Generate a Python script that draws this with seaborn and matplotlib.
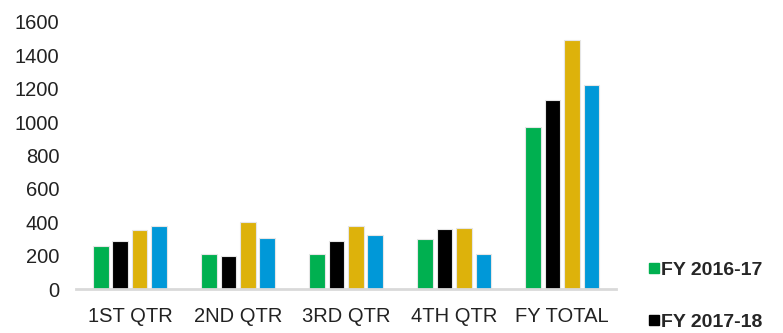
import seaborn as sns
import matplotlib.pyplot as plt
import pandas as pd
from matplotlib.lines import Line2D

# datos
categorias = ["1ST QTR", "2ND QTR", "3RD QTR", "4TH QTR", "FY TOTAL"]
series = ["FY 2016-17", "FY 2017-18", "FY 2018-19", "FY 2019-20"]
fy_2016_17 = [258, 210, 210, 298, 971]
fy_2017_18 = [286, 198, 290, 357, 1130]
fy_2018_19 = [352, 403, 379, 363, 1494]
fy_2019_20 = [379, 307, 321, 210, 1220]
colores = ["#00B050", "#000000", "#DDB20B", "#0098D8"]

valores = [fy_2016_17, fy_2017_18, fy_2018_19, fy_2019_20]
df = pd.DataFrame(
    [(c, s, v) for s, vals in zip(series, valores) for c, v in zip(categorias, vals)],
    columns=["categoria", "serie", "valor"],
)

sns.set_style("white")
plt.rcParams["font.family"] = ["Liberation Sans", "DejaVu Sans"]

fig = plt.figure(figsize=(7.83, 3.33), dpi=100)
ax = fig.add_axes([0.097, 0.132, 0.69, 0.802])

sns.barplot(data=df, x="categoria", y="valor", hue="serie", palette=colores,
            saturation=1, width=0.72, gap=0.2, edgecolor="#E6E6E6", linewidth=0.8,
            legend=False, ax=ax)

ax.set_xlim(-0.5, 4.5)
ax.set_ylim(0, 1600)
ax.set_yticks(range(0, 1601, 200))
ax.set_xlabel("")
ax.set_ylabel("")
ax.tick_params(axis="both", labelsize=14.5, colors="#222222", length=0)
ax.tick_params(axis="x", pad=13)
ax.tick_params(axis="y", pad=12)
for lado in ["top", "right", "left"]:
    ax.spines[lado].set_visible(False)
ax.spines["bottom"].set_color("#D9D9D9")
ax.spines["bottom"].set_linewidth(2)

# leyenda a la derecha, las dos ultimas entradas quedan fuera del lienzo
handles = [Line2D([], [], marker="s", ls="", color=c, markersize=6.5) for c in colores]
fig.legend(handles, series, loc="upper left", bbox_to_anchor=(0.816, 0.238),
           frameon=False, handletextpad=0.05, handlelength=0.7, labelspacing=1.75,
           borderaxespad=0, prop={"weight": "bold", "size": 14})

fig.savefig("out.png", dpi=100)
